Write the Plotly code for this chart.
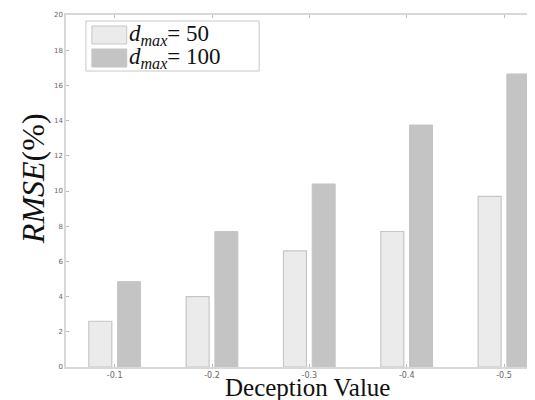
import plotly.graph_objects as go

categories = ["-0.1", "-0.2", "-0.3", "-0.4", "-0.5"]
rmse_50 = [2.6, 4.0, 6.6, 7.7, 9.7]
rmse_100 = [4.85, 7.7, 10.4, 13.75, 16.65]
y_ticks = [0, 2, 4, 6, 8, 10, 12, 14, 16, 18, 20]

xs = [1, 2, 3, 4, 5]

fig = go.Figure()
fig.add_trace(go.Bar(x=xs, y=rmse_50, name="d50",
                     marker=dict(color="#ebebeb", line=dict(color="#c6c6c6", width=1.2))))
fig.add_trace(go.Bar(x=xs, y=rmse_100, name="d100",
                     marker=dict(color="#c4c4c4", line=dict(color="#c4c4c4", width=1))))

W, H = 535, 400
L, R, T, B = 58, 0, 7, 41
PW, PH = W - L - R, H - T - B

fig.update_layout(
    width=W, height=H,
    margin=dict(l=L, r=R, t=T, b=B),
    paper_bgcolor="white", plot_bgcolor="white",
    barmode="group", bargap=0.41, bargroupgap=0.2,
    showlegend=False,
    font=dict(family="Liberation Serif", color="#444"),
)
fig.update_xaxes(
    range=[0.5, 5.38], tickmode="array", tickvals=xs, ticktext=categories,
    tickfont=dict(size=8, family="DejaVu Sans", color="#666666"),
    showline=True, linecolor="#d8d8d8", linewidth=1.5, mirror="allticks",
    ticks="inside", ticklen=3, tickcolor="#bbbbbb", showgrid=False, zeroline=False,
)
fig.update_yaxes(
    range=[0, 20], tickmode="array", tickvals=y_ticks,
    tickfont=dict(size=7, family="DejaVu Sans", color="#666666"),
    showline=True, linecolor="#d8d8d8", linewidth=1.5, mirror=True,
    ticks="inside", ticklen=3, tickcolor="#bbbbbb", showgrid=False, zeroline=False,
)

def fx(x):
    return (x - L) / PW
def fy(y):
    return 1 - (y - T) / PH

shapes = []
shapes.append(dict(type="rect", xref="paper", yref="paper",
                   x0=fx(78), x1=fx(252), y0=fy(63), y1=fy(13),
                   line=dict(color="#c8c8c8", width=1), fillcolor="white"))
def sw(y0, y1, color, lc):
    return dict(type="rect", xref="paper", yref="paper",
                x0=fx(84), x1=fx(119), y0=fy(y1), y1=fy(y0),
                line=dict(color=lc, width=1), fillcolor=color)
shapes.append(sw(18, 36, "#ebebeb", "#c6c6c6"))
shapes.append(sw(41, 59, "#c4c4c4", "#c4c4c4"))
fig.update_layout(shapes=shapes)

labels = ["<i>d</i><sub><i>max</i></sub>= 50", "<i>d</i><sub><i>max</i></sub>= 100"]
for lab, yc in zip(labels, [27, 50]):
    fig.add_annotation(xref="paper", yref="paper",
                       x=fx(120), y=fy(yc),
                       xanchor="left", yanchor="middle", showarrow=False, borderpad=0,
                       text=lab, font=dict(size=23, family="Liberation Serif", color="#111"))

# axis titles
fig.add_annotation(xref="paper", yref="paper", x=fx(301), y=fy(379),
                   xanchor="center", yanchor="middle", showarrow=False, borderpad=0,
                   text="Deception Value", font=dict(size=25, family="Liberation Serif", color="#111"))
fig.add_annotation(xref="paper", yref="paper", x=fx(25), y=fy(171),
                   xanchor="center", yanchor="middle", showarrow=False, textangle=-90, borderpad=0,
                   text="<i>RMSE</i>(%)", font=dict(size=32, family="Liberation Serif", color="#111"))

fig.write_html("out.html")
